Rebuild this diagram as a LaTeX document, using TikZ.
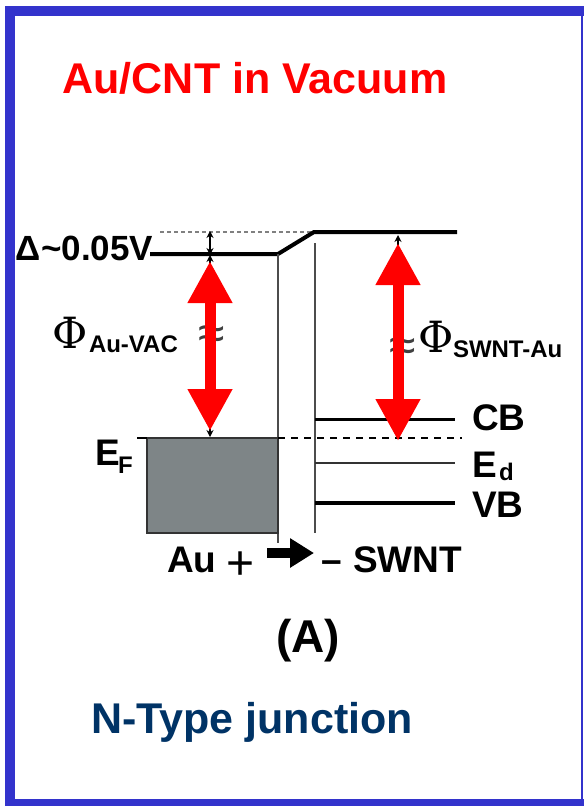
\documentclass[tikz,border=0pt]{standalone}
\usepackage{fontspec}
\setmainfont{Liberation Sans}
\newfontfamily\phifont{DejaVu Serif}
\usetikzlibrary{arrows.meta,positioning}
\definecolor{frameblue}{RGB}{51,51,204}
\definecolor{navy}{RGB}{0,51,102}
\definecolor{metalgray}{RGB}{126,133,135}
\begin{document}
\begin{tikzpicture}[
  x=1pt, y=-1pt,
  every node/.style = {inner sep=0pt, outer sep=0pt},
  ttl/.style     = {anchor=base, font=\bfseries\fontsize{43}{50}\selectfont},
  lbl/.style     = {anchor=base west, font=\bfseries\fontsize{37}{44}\selectfont},
  sublbl/.style  = {anchor=base west, font=\bfseries\fontsize{24}{28}\selectfont},
  philbl/.style  = {anchor=base west, font=\phifont\fontsize{43}{48}\selectfont},
  brk/.style     = {font=\fontsize{48}{52}\selectfont, text=black!75},
  level/.style   = {line width=4pt},
  wall/.style    = {line width=1.6pt, black!70},
  redarr/.style  = {red, line width=11pt,
                    {Triangle[length=42pt,width=42pt]}-{Triangle[length=42pt,width=42pt]}},
  blkarr/.style  = {line width=1.2pt,
                    {Stealth[length=7pt,width=7pt]}-{Stealth[length=7pt,width=7pt]}},
]
\useasboundingbox (0,0) rectangle (584,806);
\fill[frameblue] (5,6) rectangle (584,16);
\fill[frameblue] (5,6) rectangle (15,806);
\fill[frameblue] (5,799) rectangle (584,806);
\draw[frameblue, line width=1.8pt] (582,6) -- (582,806);

\node[ttl, text=red]  (title) at (255,93)  {Au/CNT in Vacuum};
\node[ttl, text=navy] (jtype) at (252,733) {N-Type junction};

% levels
\coordinate (vacL)  at (150,254);
\coordinate (bendA) at (278,254);
\coordinate (bendB) at (314,232);
\coordinate (vacR)  at (457,232);
\draw[gray, line width=1.5pt, dash pattern=on 4pt off 3pt] (160,232) -- (bendB);
\draw[level, line join=round] (vacL) -- (bendA) -- (bendB) -- (vacR);
\draw[wall] (bendA) -- (278,543);
\draw[wall] (315,243) -- (315,533);
\filldraw[fill=metalgray, draw=black!80, line width=1.5pt] (147,438) rectangle (278,533);
\draw[line width=1.5pt] (137,438) -- (147,438);
\draw[line width=1.8pt, dash pattern=on 7pt off 6pt] (278,438) -- (462,438);
\draw[line width=3pt] (315,419) -- (455,419);
\draw[line width=2pt, black!80] (315,463) -- (455,463);
\draw[level] (315,503) -- (455,503);

% arrows
\coordinate (dtop) at (210,231);
\coordinate (dbot) at (210,255);
\coordinate (efL)  at (210,437);
\coordinate (swR)  at (398,235);
\coordinate (efR)  at (398,437);
\draw[blkarr] (dtop) -- (dbot);
\draw[blkarr] (dbot) -- (efL);
\draw[blkarr] (swR) -- (efR);
\node[brk] (brkL) at (212,338) {≈};
\node[brk] (brkR) at (403,350) {≈};
\draw[redarr] (210,261) -- (210,431);
\draw[redarr] (398,243) -- (398,441);

% labels
\node[lbl, font=\bfseries\fontsize{35}{42}\selectfont] (delta) at (16,260) {Δ\textasciitilde0.05V};
\node[philbl] (phiL) at (52,348) {Φ};
\node[sublbl] (phiLs) at (89,352) {Au-VAC};
\node[philbl] (phiR) at (418,352) {Φ};
\node[sublbl] (phiRs) at (453,357) {SWNT-Au};
\node[lbl] (ef) at (95,465) {E};
\node[sublbl] (efs) at (118,473) {F};
\node[lbl] (cb) at (472,430) {CB};
\node[lbl] (ed) at (472,477) {E};
\node[sublbl] (eds) at (499,480) {d};
\node[lbl] (vb) at (472,517) {VB};

\node[lbl] (au) at (167,572) {Au};
\node[anchor=base west, font=\fontsize{48}{52}\selectfont] (plus) at (226,579) {+};
\coordinate (flowA) at (267,553);
\coordinate (flowB) at (314,553);
\draw[line width=10pt, -{Triangle[length=24pt,width=28pt]}] (flowA) -- (flowB);
\node[lbl] (minus) at (321,572) {–};
\node[lbl] (swnt) at (353,572) {SWNT};
\node[anchor=base, font=\bfseries\fontsize{46}{52}\selectfont] (panel) at (308,652) {(A)};
\end{tikzpicture}
\end{document}
